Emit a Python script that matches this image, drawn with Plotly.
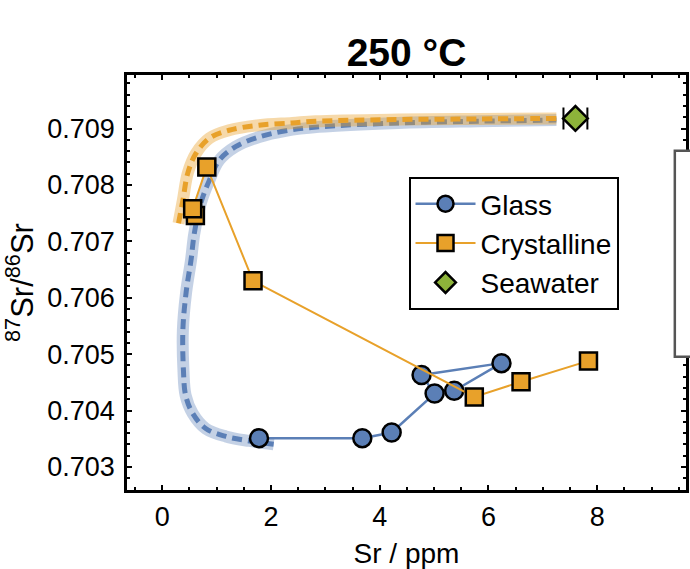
import plotly.graph_objects as go

# ---- data ----
glass_x = [1.78, 3.68, 4.22, 5.01, 4.77, 6.24, 5.37]
glass_y = [0.70351, 0.70351, 0.70361, 0.70430, 0.70463, 0.70484, 0.70435]

cryst_x = [0.61, 0.56, 0.82, 1.67, 5.74, 6.60, 7.84]
cryst_y = [0.70746, 0.70758, 0.70832, 0.70630, 0.70424, 0.70451, 0.70488]

sea_x = [7.60]
sea_y = [0.70918]
sea_err = [0.22]

# mixing curves
glass_curve_x = [2.05, 1.60, 1.17, 0.80, 0.56, 0.43, 0.39, 0.38, 0.44, 0.53, 0.59,
                 0.71, 0.87, 1.05, 1.35, 1.78, 2.27, 2.88, 4.34, 5.80, 7.25]
glass_curve_y = [0.70340, 0.70346, 0.70354, 0.70368, 0.70395, 0.70427, 0.70472,
                 0.70543, 0.70610, 0.70667, 0.70714, 0.70768, 0.70809, 0.70844,
                 0.70868, 0.70885, 0.70896, 0.70903, 0.70910, 0.70913, 0.70915]

cryst_curve_x = [0.30, 0.38, 0.47, 0.62, 0.87, 1.23, 1.78, 2.39, 2.82, 4.34, 5.80, 7.25]
cryst_curve_y = [0.70732, 0.70773, 0.70821, 0.70856, 0.70883, 0.70897, 0.70906,
                 0.70910, 0.70913, 0.70916, 0.70917, 0.70918]

x_ticks = [0, 2, 4, 6, 8]
y_ticks = [0.703, 0.704, 0.705, 0.706, 0.707, 0.708, 0.709]

BLUE = "#5b7fb6"
ORANGE = "#e8a12a"
GREEN = "#8db33a"
FONT = "Liberation Sans"

fig = go.Figure()

# curves: light wide band + dashed line
fig.add_trace(go.Scatter(x=glass_curve_x, y=glass_curve_y, mode="lines",
                         line=dict(color="rgba(91,127,182,0.36)", width=12, shape="spline"),
                         showlegend=False, hoverinfo="skip"))
fig.add_trace(go.Scatter(x=glass_curve_x, y=glass_curve_y, mode="lines",
                         line=dict(color=BLUE, width=5, dash="10px,6px", shape="spline"),
                         showlegend=False, hoverinfo="skip"))
fig.add_trace(go.Scatter(x=cryst_curve_x, y=cryst_curve_y, mode="lines",
                         line=dict(color="rgba(232,161,42,0.4)", width=12, shape="spline"),
                         showlegend=False, hoverinfo="skip"))
fig.add_trace(go.Scatter(x=cryst_curve_x, y=cryst_curve_y, mode="lines",
                         line=dict(color=ORANGE, width=5, dash="10px,6px", shape="spline"),
                         showlegend=False, hoverinfo="skip"))

fig.add_trace(go.Scatter(x=glass_x, y=glass_y, mode="lines+markers", name="Glass",
                         line=dict(color=BLUE, width=2.5),
                         marker=dict(symbol="circle", size=18, color=BLUE,
                                     line=dict(color="black", width=2.5))))
fig.add_trace(go.Scatter(x=cryst_x, y=cryst_y, mode="lines+markers", name="Crystalline",
                         line=dict(color=ORANGE, width=2),
                         marker=dict(symbol="square", size=17, color=ORANGE,
                                     line=dict(color="black", width=2.5))))
fig.add_trace(go.Scatter(x=sea_x, y=sea_y, mode="markers", name="Seawater",
                         error_x=dict(type="data", array=sea_err, color="black",
                                      thickness=2, width=11),
                         marker=dict(symbol="diamond", size=19, color=GREEN,
                                     line=dict(color="black", width=2.5))))

axis_common = dict(showline=True, linecolor="black", linewidth=2.5, mirror="ticks",
                   ticks="inside", ticklen=5, tickwidth=2, tickcolor="black",
                   showgrid=False, zeroline=False,
                   tickfont=dict(family=FONT, size=27, color="black"))

fig.update_xaxes(range=[-0.648, 9.634], tickvals=x_ticks,
                 ticktext=[str(v) for v in x_ticks],
                 minor=dict(dtick=0.5, ticks="inside", ticklen=3, tickwidth=1.5,
                            tickcolor="black"),
                 ticklabelstandoff=1,
                 title=dict(text="Sr / ppm", font=dict(family=FONT, size=28, color="black"),
                            standoff=14),
                 **axis_common)
fig.update_yaxes(range=[0.70259, 0.70995], tickvals=y_ticks,
                 ticktext=["%.3f" % v for v in y_ticks],
                 minor=dict(dtick=0.0002, ticks="inside", ticklen=3, tickwidth=1.5,
                            tickcolor="black"),
                 ticklabelstandoff=4,
                 title=dict(text="<sup>87</sup>Sr/<sup>86</sup>Sr",
                            font=dict(family=FONT, size=31, color="black"), standoff=6),
                 **axis_common)

# partially visible box of the neighbouring panel at the right edge
fig.add_shape(type="rect", xref="paper", yref="paper", x0=0.98, x1=1.2,
              y0=0.321, y1=0.8176, line=dict(color="#555555", width=2.5),
              fillcolor="white", layer="above")

fig.update_layout(
    width=690, height=569,
    margin=dict(l=127, r=1, t=75, b=79),
    paper_bgcolor="white", plot_bgcolor="white",
    title=dict(text="<b>250 °C</b>", x=0.5, xref="paper", xanchor="center",
               y=1 - 52 / 569, yanchor="middle",
               font=dict(family=FONT, size=39, color="black")),
    legend=dict(x=0.5036, y=0.594, xanchor="left", yanchor="middle",
                bgcolor="white", bordercolor="black", borderwidth=2,
                font=dict(family=FONT, size=28, color="black"),
                itemsizing="trace", itemwidth=60),
    showlegend=True,
)

fig.write_html("out.html")
